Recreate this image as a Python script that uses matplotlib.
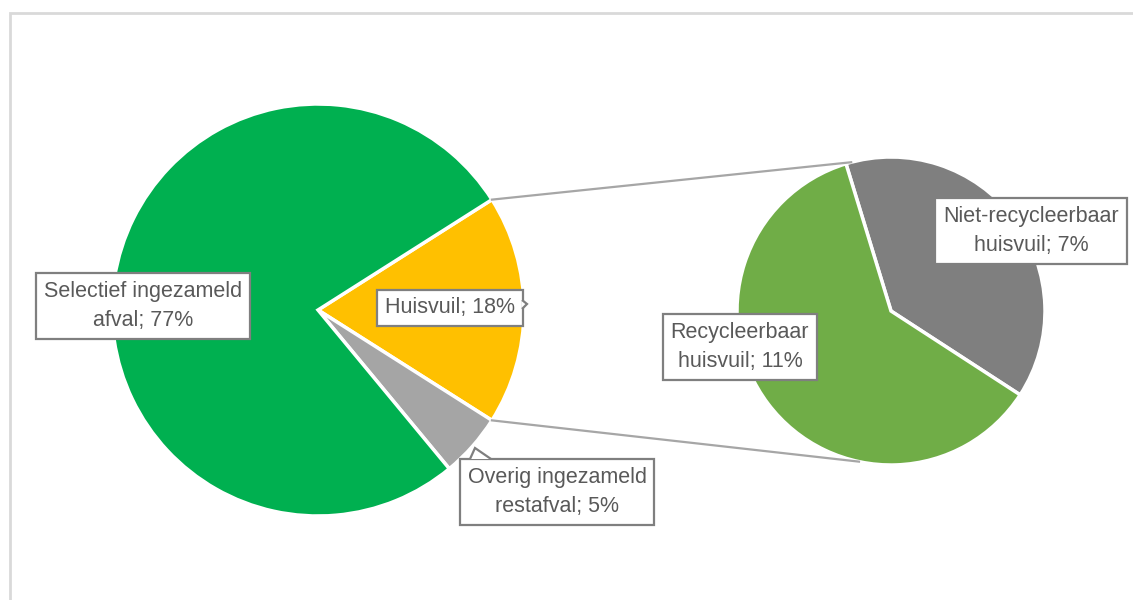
import matplotlib
matplotlib.use("Agg")
import numpy as np
import matplotlib.pyplot as plt
from matplotlib.patches import Rectangle, Polygon

# afvalverdeling (hoofdcirkel) en opsplitsing huisvuil (subcirkel)
main_labels = ["Huisvuil", "Overig ingezameld\nrestafval", "Selectief ingezameld\nafval"]
main_values = [18, 5, 77]
main_colors = ["#FFC000", "#A5A5A5", "#00B050"]

sub_labels = ["Niet-recycleerbaar\nhuisvuil", "Recycleerbaar\nhuisvuil"]
sub_values = [7, 11]
sub_colors = ["#7F7F7F", "#70AD47"]

W, H = 1133, 600
TXT = "#595959"

plt.rcParams["font.family"] = ["Liberation Sans", "DejaVu Sans"]

fig = plt.figure(figsize=(W / 100, H / 100), dpi=100)
ax = fig.add_axes([0, 0, 1, 1])

main_c = (318, H - 310)
main_r = 206
sub_c = (891, H - 311)
sub_r = 154

half = main_values[0] / sum(main_values) * 360 / 2
ax.pie(main_values, colors=main_colors, startangle=half, counterclock=False,
       center=main_c, radius=main_r, frame=True,
       wedgeprops=dict(edgecolor="white", linewidth=2.5))
ax.pie(sub_values, colors=sub_colors, startangle=107, counterclock=False,
       center=sub_c, radius=sub_r, frame=True,
       wedgeprops=dict(edgecolor="white", linewidth=2.5))

# verbindingslijnen tussen huisvuil-segment en subcirkel
def on_circle(c, r, deg):
    a = np.radians(deg)
    return c[0] + r * np.cos(a), c[1] + r * np.sin(a)

for a_main, a_sub in [(half, 105), (-half, -102)]:
    x0, y0 = on_circle(main_c, main_r, a_main)
    x1, y1 = on_circle(sub_c, sub_r, a_sub)
    ax.plot([x0, x1], [y0, y1], color="#A6A6A6", lw=1.6, zorder=1)

box = dict(boxstyle="square,pad=0.36", fc="white", ec="#7F7F7F", lw=1.6)

def label(x, y, name, val):
    ax.text(x, H - y, f"{name}; {val}%", ha="center", va="center",
            multialignment="center", color=TXT, fontsize=15.5,
            linespacing=1.5, bbox=box, zorder=3)

label(450, 308, main_labels[0], main_values[0])
label(557, 492, main_labels[1], main_values[1])
label(143, 306, main_labels[2], main_values[2])
label(1031, 231, sub_labels[0], sub_values[0])
label(740, 347, sub_labels[1], sub_values[1])

# aanwijzers van de labels
ax.add_patch(Polygon([(470, H - 459), (475, H - 448), (491, H - 459)], closed=False,
                     fc="white", ec="#7F7F7F", lw=1.6, zorder=4))
ax.add_patch(Polygon([(522, H - 300), (527, H - 304), (522, H - 309)], closed=False,
                     fc="white", ec="#7F7F7F", lw=1.6, zorder=4))

# kader van het diagram
ax.add_patch(Rectangle((10, -20), W + 40, H - 13 + 20, fill=False,
                       ec="#D9D9D9", lw=2, zorder=0))

ax.set_xlim(0, W)
ax.set_ylim(0, H)
ax.set_aspect("auto")
ax.axis("off")

fig.savefig("out.png", dpi=100, facecolor="white")
